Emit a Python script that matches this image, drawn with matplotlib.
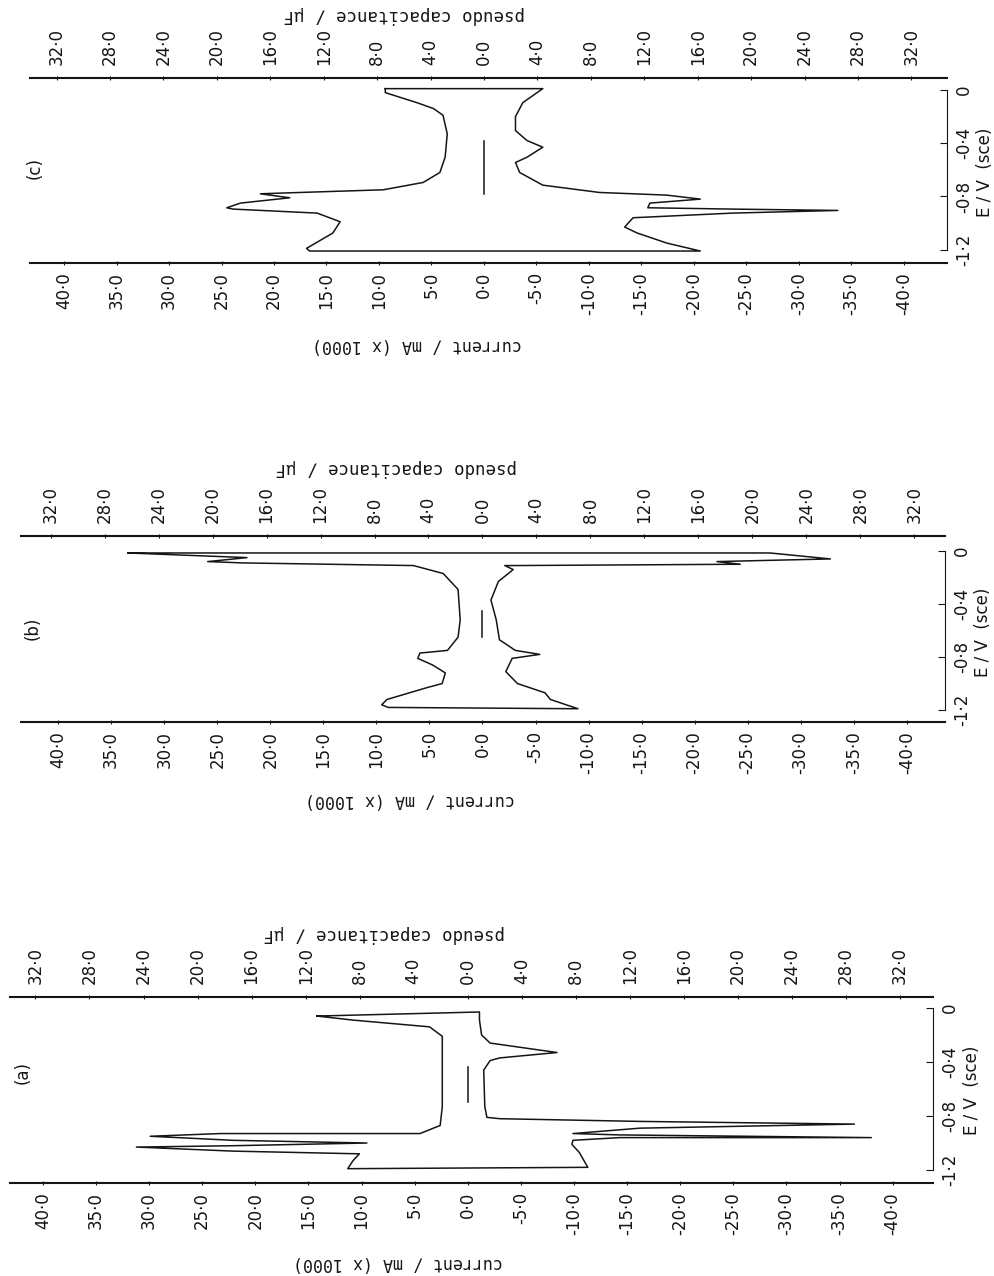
import numpy as np
import matplotlib.pyplot as plt

# cyclic voltammograms, E / V (sce) against current / mA (x 1000)
# each list is one closed cycle: cathodic branch going down, anodic branch coming back

# panel (c)
c_E = [0.01, -0.02, -0.095, -0.14, -0.19, -0.33, -0.505, -0.62, -0.695, -0.75, -0.77,
       -0.78, -0.81, -0.85, -0.885, -0.895, -0.925, -0.99, -1.075, -1.19, -1.21,
       -1.21, -1.15, -1.075, -1.03, -0.96, -0.925, -0.905, -0.895, -0.885, -0.85,
       -0.82, -0.79, -0.77, -0.715, -0.62, -0.545, -0.505, -0.43, -0.38, -0.305,
       -0.20, -0.095, 0.01]
c_I = [9.4, 9.4, 6.4, 4.8, 3.9, 3.5, 3.7, 4.2, 5.8, 9.6, 17.5,
       21.3, 18.5, 23.2, 24.5, 23.9, 15.9, 13.7, 14.4, 16.9, 16.6,
       -20.6, -17.4, -14.6, -13.4, -14.2, -23.7, -33.7, -23.7, -15.6, -15.8,
       -20.6, -17.4, -11.0, -5.6, -3.4, -3.0, -4.1, -5.6, -4.1, -3.0,
       -3.0, -3.7, -5.6]
c_bar = [-0.38, -0.78]

# panel (b)
b_E = [-0.015, -0.05, -0.08, -0.09, -0.11, -0.17, -0.29, -0.52, -0.65, -0.75,
       -0.77, -0.81, -0.86, -0.92, -1.00, -1.03, -1.12, -1.16, -1.18,
       -1.19, -1.12, -1.07, -1.00, -0.91, -0.81, -0.78, -0.75, -0.67, -0.52,
       -0.37, -0.23, -0.14, -0.11, -0.11, -0.10, -0.08, -0.075, -0.06, -0.03, -0.015]
b_I = [33.4, 22.2, 25.9, 22.6, 6.5, 3.7, 2.3, 2.1, 2.3, 3.3,
       5.9, 6.1, 4.7, 3.5, 3.8, 5.2, 9.0, 9.5, 8.9,
       -9.0, -6.4, -5.9, -3.3, -2.2, -2.8, -5.4, -3.1, -1.6, -1.3,
       -0.8, -1.5, -2.9, -2.1, -2.9, -24.3, -22.1, -24.7, -32.8, -29.0, -27.1]
b_bar = [-0.45, -0.65]

# panel (a)
a_E = [-0.06, -0.09, -0.14, -0.21, -0.36, -0.73, -0.87, -0.93, -0.93, -0.95,
       -0.98, -1.00, -1.02, -1.03, -1.06, -1.08, -1.13, -1.19,
       -1.18, -1.07, -1.01, -0.98, -0.96, -0.96, -0.94, -0.93, -0.89, -0.86,
       -0.84, -0.82, -0.81, -0.73, -0.46, -0.39, -0.37, -0.33, -0.27, -0.26,
       -0.20, -0.09, -0.03]
a_I = [14.2, 10.8, 3.6, 2.4, 2.4, 2.4, 2.6, 4.5, 23.3, 29.9,
       22.1, 9.5, 22.1, 31.2, 22.1, 10.2, 10.8, 11.3,
       -11.3, -10.5, -9.8, -9.9, -14.3, -38.0, -14.3, -9.9, -16.2, -36.4,
       -16.2, -3.0, -1.8, -1.6, -1.5, -2.1, -3.0, -8.4, -3.0, -2.1,
       -1.3, -1.1, -1.1]
a_bar = [-0.44, -0.70]

current_ticks = np.arange(40, -41, -5)
cap_ticks = np.arange(-32, 33, 4)
E_ticks = [0, -0.4, -0.8, -1.2]
cap_ratio = 1.272  # current scale units per pseudo capacitance unit

W, H = 994, 1276


def fmt(v):
    return f"{v:.1f}".replace(".", "·")


def fmtE(v):
    if v == 0:
        return "0"
    return f"{v:.1f}".replace(".", "·")


fig = plt.figure(figsize=(W / 100, H / 100), dpi=100)
fig.patch.set_facecolor("white")

# pixel layout of each panel: box (left, right, top, bottom), xlim, ylim,
# panel letter spot, current label spot, capacitance label spot, E label spot
panels = [
    ("(c)", c_E, c_I, c_bar, (30, 947, 78, 263), (43.24, -44.1), (-1.30, 0.09),
     (35, 168), (417, 345), (404, 15), (985, 172)),
    ("(b)", b_E, b_I, b_bar, (21, 945, 536, 722), (43.5, -43.6), (-1.29, 0.113),
     (33, 628), (410, 800), (396, 468), (983, 632)),
    ("(a)", a_E, a_I, a_bar, (10, 933, 997, 1183), (43.1, -43.8), (-1.296, 0.081),
     (23, 1073), (398, 1263), (384, 934), (972, 1090)),
]

fs = 12
ink = "#151515"
mono = "DejaVu Sans Mono"

for name, E, I, bar, box, xl, yl, lab, cur, cap, e_lab in panels:
    l, r, t, b = box
    ax = fig.add_axes([l / W, 1 - b / H, (r - l) / W, (b - t) / H])
    ax.set_facecolor("none")
    ax.plot(np.r_[I, I[0]], np.r_[E, E[0]], color=ink, lw=1.1)
    ax.plot([0, 0], bar, color=ink, lw=1.1)
    ax.set_xlim(xl)
    ax.set_ylim(yl)

    ax.spines["left"].set_visible(False)
    ax.spines["top"].set_visible(False)
    ax.spines["bottom"].set_linewidth(1.5)
    ax.spines["bottom"].set_color(ink)
    ax.spines["right"].set_bounds(-1.2, 0)
    ax.spines["right"].set_linewidth(0.8)
    ax.spines["right"].set_color(ink)

    ax.set_xticks(current_ticks)
    ax.set_xticklabels([fmt(v) for v in current_ticks])
    ax.tick_params(axis="x", direction="inout", length=3, width=0.8,
                   labelrotation=90, labelsize=fs, pad=5, colors=ink)

    ax.yaxis.tick_right()
    ax.set_yticks(E_ticks)
    ax.set_yticklabels([fmtE(v) for v in E_ticks])
    ax.tick_params(axis="y", direction="in", length=5, width=0.8,
                   labelrotation=90, labelsize=fs, pad=6, colors=ink)
    for tl in ax.get_yticklabels():
        tl.set_va("center")

    sec = ax.secondary_xaxis("top", functions=(lambda i: i / cap_ratio,
                                               lambda c: c * cap_ratio))
    sec.set_xticks(cap_ticks)
    sec.set_xticklabels([fmt(abs(v)) for v in cap_ticks])
    sec.tick_params(direction="inout", length=3, width=0.8, labelrotation=90,
                    labelsize=fs, pad=8, colors=ink)
    sec.spines["top"].set_linewidth(1.5)
    sec.spines["top"].set_color(ink)

    fig.text(lab[0] / W, 1 - lab[1] / H, name, rotation=90, ha="center",
             va="center", fontsize=fs, color=ink)
    fig.text(cur[0] / W, 1 - cur[1] / H, "current / mA (x 1000)", rotation=180,
             ha="center", va="center", fontsize=12, family=mono, color=ink)
    fig.text(cap[0] / W, 1 - cap[1] / H, "pseudo capacitance / μF", rotation=180,
             ha="center", va="center", fontsize=12.5, family=mono, color=ink)
    fig.text(e_lab[0] / W, 1 - e_lab[1] / H, "E / V  (sce)", rotation=90,
             ha="center", va="center", fontsize=fs, color=ink)

fig.savefig("out.png", dpi=100, facecolor="white")
